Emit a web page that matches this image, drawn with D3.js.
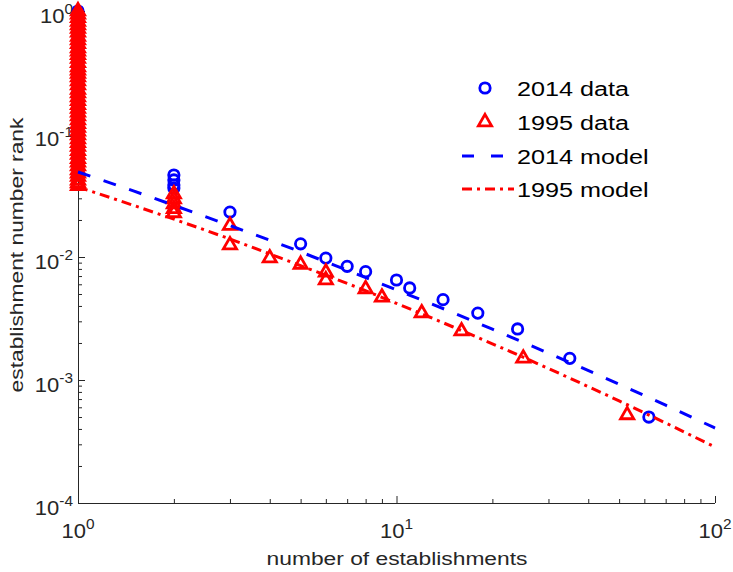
<!DOCTYPE html>
<html>
<head>
<meta charset="utf-8">
<script src="https://cdn.jsdelivr.net/npm/d3@7"></script>
<style>
  body { margin: 0; background: #fff; }
  text { font-family: "Liberation Sans", Arial, sans-serif; }
</style>
</head>
<body>
<script>
const width = 733;
const height = 572;

// rank values of the single-establishment firms (x = 1)
const ones2014 = [1, 0.94, 0.88, 0.82, 0.77, 0.72, 0.67, 0.62, 0.58, 0.54, 0.5, 0.47, 0.44, 0.41,
  0.38, 0.35, 0.33, 0.31, 0.29, 0.27, 0.25, 0.23, 0.215, 0.2, 0.186, 0.173, 0.161, 0.15, 0.14,
  0.13, 0.121, 0.113, 0.105, 0.098, 0.091, 0.085, 0.079, 0.073, 0.068, 0.063, 0.059, 0.055, 0.051];
const ones1995 = [1, 0.94, 0.88, 0.82, 0.77, 0.72, 0.67, 0.62, 0.58, 0.54, 0.5, 0.47, 0.44, 0.41,
  0.38, 0.35, 0.33, 0.31, 0.29, 0.27, 0.25, 0.23, 0.215, 0.2, 0.186, 0.173, 0.161, 0.15, 0.14,
  0.13, 0.121, 0.113, 0.105, 0.098, 0.091, 0.085, 0.079, 0.073, 0.068, 0.063, 0.059, 0.055, 0.051,
  0.048, 0.045, 0.042, 0.04, 0.038];

const x2014 = [2, 2, 2, 2, 3, 5, 6, 7, 8, 10, 11, 14, 18, 24, 35, 62];
const y2014 = [0.0464, 0.0423, 0.0385, 0.0364, 0.0232, 0.0128, 0.0098, 0.0084, 0.0076, 0.0065,
  0.0056, 0.0045, 0.0035, 0.0026, 0.0015, 0.0005];
const x1995 = [2, 2, 2, 2, 2, 3, 3, 4, 5, 6, 6, 8, 9, 12, 16, 25, 53];
const y1995 = [0.0325, 0.0296, 0.027, 0.0246, 0.0228, 0.018, 0.0125, 0.0098, 0.0087, 0.0075,
  0.0065, 0.0055, 0.0047, 0.0035, 0.0025, 0.0015, 0.00052];

// fitted models
const modelX = [1, 1.5, 2, 3, 5, 7, 10, 15, 20, 30, 50, 70, 100];
const model2014 = [0.0491, 0.0343, 0.0263, 0.018, 0.011, 0.0078, 0.0054, 0.00354, 0.00259,
  0.00165, 0.000925, 0.000624, 0.000407];
const model1995 = [0.0371, 0.0262, 0.0203, 0.014, 0.0085, 0.0061, 0.0042, 0.00271, 0.00197,
  0.00124, 0.000676, 0.000447, 0.000285];

const xMajor = [1, 10, 100];
const yMajor = [1e-4, 1e-3, 1e-2, 1e-1, 1];

const legendLabels = ["2014 data", "1995 data", "2014 model", "1995 model"];

const stretch = 1.2;
const axisColor = "#262626";

const svg = d3.select("body").append("svg")
  .attr("width", width).attr("height", height)
  .attr("xmlns", "http://www.w3.org/2000/svg");

const x = d3.scaleLog().domain([1, 100]).range([78, 715]);
const y = d3.scaleLog().domain([1e-4, 1]).range([503, 11]);

function minorTicks(lo, hi) {
  const out = [];
  for (let e = lo; e < hi; e++) {
    for (let m = 2; m <= 9; m++) out.push(m * Math.pow(10, e));
  }
  return out;
}

// axes, ticks pointing inward like MATLAB
function drawAxis(g, axis) {
  g.call(axis);
  g.select(".domain").remove();
  g.selectAll(".tick line").attr("stroke", axisColor);
}
const gx = svg.append("g").attr("transform", `translate(0,${y(1e-4)})`);
drawAxis(gx.append("g"), d3.axisBottom(x).tickValues(xMajor).tickSize(-7).tickFormat(""));
drawAxis(gx.append("g"), d3.axisBottom(x).tickValues(minorTicks(0, 2)).tickSize(-4).tickFormat(""));
const gy = svg.append("g").attr("transform", `translate(${x(1)},0)`);
drawAxis(gy.append("g"), d3.axisLeft(y).tickValues(yMajor).tickSize(-7).tickFormat(""));
drawAxis(gy.append("g"), d3.axisLeft(y).tickValues(minorTicks(-4, 0)).tickSize(-4).tickFormat(""));
gx.append("path").attr("d", `M${x(1)},0.5H${x(100)}`).attr("stroke", axisColor).attr("fill", "none");
gy.append("path").attr("d", `M0.5,${y(1)}V${y(1e-4) + 0.5}`).attr("stroke", axisColor).attr("fill", "none");

// power-of-ten tick labels
xMajor.forEach(v => {
  const t = svg.append("text")
    .attr("transform", `translate(${x(v)},538) scale(1.1,1)`)
    .attr("text-anchor", "middle").attr("font-size", 20).attr("fill", axisColor);
  t.append("tspan").text("10");
  t.append("tspan").attr("font-size", 14).attr("dy", -9).text(Math.round(Math.log10(v)));
});
yMajor.forEach(v => {
  const t = svg.append("text")
    .attr("transform", `translate(73,${y(v) + 12}) scale(1.1,1)`)
    .attr("text-anchor", "end").attr("font-size", 20).attr("fill", axisColor);
  t.append("tspan").text("10");
  t.append("tspan").attr("font-size", 14).attr("dy", -9).text(Math.round(Math.log10(v)));
});

// axis titles
svg.append("text")
  .attr("transform", `translate(397,565) scale(${stretch},1)`)
  .attr("text-anchor", "middle").attr("font-size", 19).attr("fill", axisColor)
  .text("number of establishments");
svg.append("text")
  .attr("transform", `translate(23,255) rotate(-90) scale(${stretch},1)`)
  .attr("text-anchor", "middle").attr("font-size", 19).attr("fill", axisColor)
  .text("establishment number rank");

const blue = "#0000ff";
const red = "#ff0000";
const tri = d3.symbol(d3.symbolTriangle).size(75);

const pts2014 = ones2014.map(v => [1, v]).concat(x2014.map((v, i) => [v, y2014[i]]));
const pts1995 = ones1995.map(v => [1, v]).concat(x1995.map((v, i) => [v, y1995[i]]));

svg.append("g").selectAll("circle")
  .data(pts2014)
  .enter().append("circle")
  .attr("cx", d => x(d[0])).attr("cy", d => y(d[1]))
  .attr("r", 5.2)
  .attr("fill", "none").attr("stroke", blue).attr("stroke-width", 2.8);

svg.append("g").selectAll("path")
  .data(pts1995)
  .enter().append("path")
  .attr("d", tri)
  .attr("transform", d => `translate(${x(d[0])},${y(d[1])})`)
  .attr("fill", "none").attr("stroke", red).attr("stroke-width", 2.8);

const line = d3.line().x(d => x(d[0])).y(d => y(d[1])).curve(d3.curveMonotoneX);

svg.append("path")
  .attr("d", line(modelX.map((v, i) => [v, model2014[i]])))
  .attr("stroke", blue).attr("stroke-width", 3).attr("fill", "none")
  .attr("stroke-dasharray", "13,14");
svg.append("path")
  .attr("d", line(modelX.map((v, i) => [v, model1995[i]])))
  .attr("stroke", red).attr("stroke-width", 3).attr("fill", "none")
  .attr("stroke-dasharray", "10,5,3,5");

// legend
const leg = svg.append("g");
const rowY = [88, 122, 156, 189];
leg.append("circle").attr("cx", 485).attr("cy", rowY[0]).attr("r", 5.2)
  .attr("fill", "none").attr("stroke", blue).attr("stroke-width", 2.8);
leg.append("path").attr("d", tri).attr("transform", `translate(485,${rowY[1]})`)
  .attr("fill", "none").attr("stroke", red).attr("stroke-width", 2.8);
leg.append("line").attr("x1", 462).attr("x2", 504).attr("y1", rowY[2]).attr("y2", rowY[2])
  .attr("stroke", blue).attr("stroke-width", 3).attr("stroke-dasharray", "12,17");
leg.append("line").attr("x1", 462).attr("x2", 514).attr("y1", rowY[3]).attr("y2", rowY[3])
  .attr("stroke", red).attr("stroke-width", 3).attr("stroke-dasharray", "10,5,3,5");
legendLabels.forEach((s, i) => {
  leg.append("text")
    .attr("transform", `translate(517,${rowY[i] + 8}) scale(${stretch},1)`)
    .attr("font-size", 21).attr("fill", "#000")
    .text(s);
});
</script>
</body>
</html>
